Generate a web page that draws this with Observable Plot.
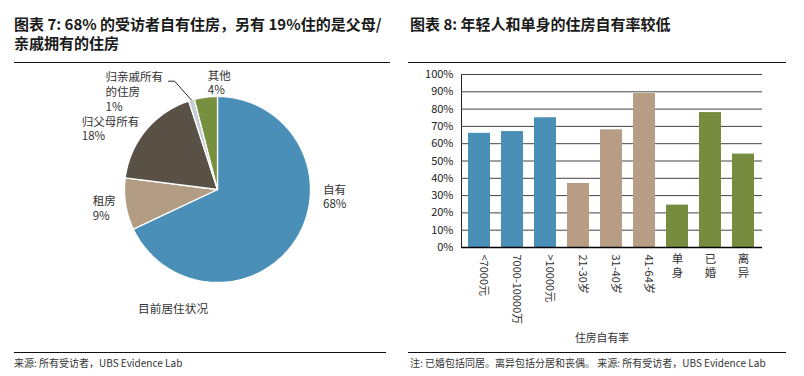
<!DOCTYPE html>
<html><head><meta charset="utf-8">
<script src="https://cdn.jsdelivr.net/npm/d3@7"></script>
<script src="https://cdn.jsdelivr.net/npm/@observablehq/plot@0.6"></script>
<style>
body{margin:0;background:#fff;width:804px;height:376px;overflow:hidden;position:relative;font-family:"Noto Sans CJK SC","Noto Sans",sans-serif;color:#333}
.abs{position:absolute}
.title{font-size:15px;font-weight:700;line-height:19px;color:#1a1a1a;white-space:nowrap}
.rule{position:absolute;height:0;border-top:1.3px solid #111}
.foot{font-size:10px;white-space:nowrap;color:#333;line-height:12px}
</style></head><body>
<div class="abs title" style="left:14px;top:14px">图表 7: 68% 的受访者自有住房，另有 19%住的是父母/<br>亲戚拥有的住房</div>
<div class="abs title" style="left:410px;top:14px">图表 8: 年轻人和单身的住房自有率较低</div>
<div class="rule" style="left:14px;top:62px;width:376px"></div>
<div class="rule" style="left:408px;top:62px;width:378px"></div>
<div id="pie" class="abs" style="left:14px;top:64px"></div>
<div id="bar" class="abs" style="left:410px;top:64px"></div>
<div class="abs" style="left:138px;top:300px;font-size:11.7px;line-height:16px">目前居住状况</div>
<div class="abs" style="left:575px;top:330px;font-size:10.8px;line-height:14px">住房自有率</div>
<div class="rule" style="left:14px;top:352px;width:372px"></div>
<div class="rule" style="left:408px;top:352px;width:378px"></div>
<div class="abs foot" style="left:14px;top:357px">来源: 所有受访者，UBS Evidence Lab</div>
<div class="abs foot" style="left:410px;top:357px">注: 已婚包括同居。离异包括分居和丧偶。 来源: 所有受访者，UBS Evidence Lab</div>
<script>
// ---- data ----
const pieCategories = ["自有", "租房", "归父母所有", "归亲戚所有的住房", "其他"];
const pieLabels = ["自有\n68%", "租房\n9%", "归父母所有\n18%", "归亲戚所有\n的住房\n1%", "其他\n4%"];
const pieValues = [68, 9, 18, 1, 4];

const barCategories = ["<7000元", "7000-10000万", ">10000元", "21-30岁", "31-40岁", "41-64岁", "单身", "已婚", "离异"];
const barGroups = ["收入", "收入", "收入", "年龄", "年龄", "年龄", "婚姻", "婚姻", "婚姻"];
const barValues = [0.66, 0.67, 0.75, 0.37, 0.68, 0.89, 0.245, 0.78, 0.54];
const yTicks = [0, 0.1, 0.2, 0.3, 0.4, 0.5, 0.6, 0.7, 0.8, 0.9, 1.0];

// ---- styles ----
const FONT = '"Noto Sans CJK SC","Noto Sans",sans-serif';
const pieColors = ["#4a8fb8", "#b39c84", "#595046", "#c6ccd6", "#77903f"];
const groupDomain = ["收入", "年龄", "婚姻"];
const groupColors = ["#4a8fb8", "#b69d83", "#778c3f"];
const labelOffsets = [[27, -43], [-33, 4], [-64, -2], [-86, -9], [2, -15]];
const R = 93; // pie radius in px (for leader offsets)

// ---- pie ----
const total = d3.sum(pieValues);
let acc = 0;
const slices = pieValues.map((v, i) => {
  const a0 = acc / total * 2 * Math.PI; acc += v;
  const a1 = acc / total * 2 * Math.PI;
  return {i, name: pieCategories[i], a0, a1, mid: (a0 + a1) / 2};
});
function wedge(s) {
  const n = Math.max(2, Math.ceil((s.a1 - s.a0) / (Math.PI / 180)));
  const pts = [{x: 0, y: 0}];
  for (let k = 0; k <= n; k++) {
    const a = s.a0 + (s.a1 - s.a0) * k / n;
    pts.push({x: Math.sin(a), y: Math.cos(a)});
  }
  pts.push({x: 0, y: 0});
  return pts;
}
const pieMarks = [];
slices.forEach(s => {
  pieMarks.push(Plot.line(wedge(s), {x: "x", y: "y", fill: pieColors[s.i], stroke: "white", strokeWidth: 1.3, strokeLinejoin: "miter", curve: "linear"}));
});
// leader line for the 1% slice
const sl = slices[3];
const rim = {x: Math.sin(sl.mid), y: Math.cos(sl.mid)};
const elbow = {x: rim.x - 17 / R, y: rim.y + 19 / R};
const lend = {x: elbow.x - 6 / R, y: elbow.y};
pieMarks.push(Plot.line([lend, elbow, rim], {x: "x", y: "y", stroke: "#111", strokeWidth: 0.9}));
slices.forEach(s => {
  pieMarks.push(Plot.text([s], {
    x: d => Math.sin(d.mid), y: d => Math.cos(d.mid), text: d => pieLabels[d.i],
    dx: labelOffsets[s.i][0], dy: labelOffsets[s.i][1],
    textAnchor: "start", lineAnchor: "middle", fontSize: 11.5, lineHeight: 1.28, fill: "#333"
  }));
});
document.getElementById("pie").appendChild(Plot.plot({
  width: 372, height: 266, margin: 0,
  x: {domain: [-1, 1], range: [110, 296], axis: null},
  y: {domain: [-1, 1], range: [218, 32], axis: null},
  style: {fontFamily: FONT, background: "transparent"},
  marks: pieMarks
}));

// ---- bars ----
const barData = barCategories.map((c, i) => ({cat: c, group: barGroups[i], value: barValues[i]}));
document.getElementById("bar").appendChild(Plot.plot({
  width: 376, height: 280, marginLeft: 51, marginRight: 24, marginTop: 10, marginBottom: 97,
  x: {domain: barCategories, paddingInner: 0.33, paddingOuter: 0.19, axis: null},
  y: {domain: [0, 1], ticks: yTicks, tickFormat: d3.format(".0%"), tickSize: 0, tickPadding: 8, label: null, line: true},
  color: {domain: groupDomain, range: groupColors},
  style: {fontFamily: FONT, fontSize: "11px", color: "#222", background: "transparent"},
  marks: [
    Plot.ruleY(yTicks.slice(1), {stroke: "#444", strokeWidth: 1}),
    Plot.barY(barData, {x: "cat", y: "value", fill: "group"}),
    Plot.ruleY([0], {stroke: "#000", strokeWidth: 1.3}),
    Plot.text(barData.filter(d => /\d/.test(d.cat)), {
      x: "cat", text: "cat", frameAnchor: "bottom", rotate: 90, textAnchor: "start",
      dy: 7, fontSize: 11, fill: "#333"
    }),
    Plot.text(barData.filter(d => !/\d/.test(d.cat)), {
      x: "cat", text: d => Array.from(d.cat).join("\n"), frameAnchor: "bottom",
      lineAnchor: "top", dy: 5, lineHeight: 1.25, fontSize: 11.5, fill: "#333"
    })
  ]
}));
</script>
</body></html>
